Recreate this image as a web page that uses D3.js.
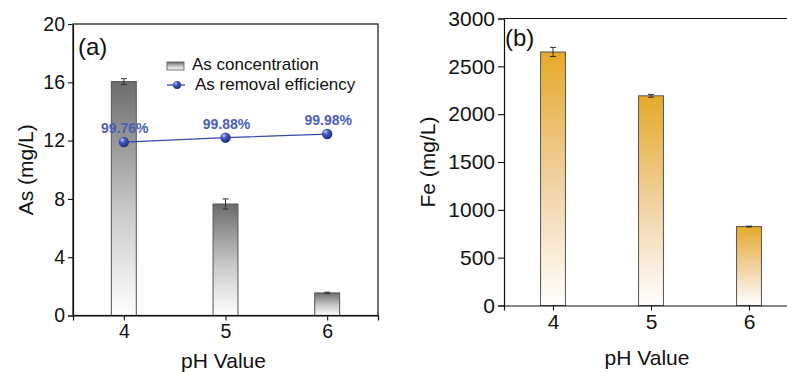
<!DOCTYPE html>
<html>
<head>
<meta charset="utf-8">
<script src="https://cdn.jsdelivr.net/npm/d3@7"></script>
<style>
  body { margin: 0; background: #fff; }
  svg { display: block; font-family: Arial, "Liberation Sans", sans-serif; }
</style>
</head>
<body>
<div id="chart"></div>
<script>
// data
var phLevels = [4, 5, 6];
var asConc = [16.05, 7.65, 1.55];
var asErr = [0.2, 0.35, 0.05];
var asEff = [99.76, 99.88, 99.98];
var feConc = [2650, 2192, 825];
var feErr = [48, 15, 5];
var yTicksA = [0, 4, 8, 12, 16, 20];
var yTicksB = [0, 500, 1000, 1500, 2000, 2500, 3000];

var W = 787, H = 372;
var svg = d3.select('#chart').append('svg').attr('width', W).attr('height', H);
var defs = svg.append('defs');

function vGrad(id, stops) {
    var g = defs.append('linearGradient').attr('id', id)
        .attr('x1', 0).attr('y1', 0).attr('x2', 0).attr('y2', 1);
    stops.forEach(function(s){ g.append('stop').attr('offset', s[0]).attr('stop-color', s[1]); });
}
vGrad('grayGrad', [['0%', '#6c6c6c'], ['55%', '#c9c9c9'], ['100%', '#ffffff']]);
vGrad('goldGrad', [['0%', '#e5aa28'], ['50%', '#f1d09e'], ['100%', '#ffffff']]);

var ball = defs.append('radialGradient').attr('id', 'ball')
    .attr('cx', '35%').attr('cy', '30%').attr('r', '70%');
ball.append('stop').attr('offset', '0%').attr('stop-color', '#c8d0f4');
ball.append('stop').attr('offset', '35%').attr('stop-color', '#4a5cc0');
ball.append('stop').attr('offset', '100%').attr('stop-color', '#1f2d86');

var titleFont = 21;

// ---------- panel (a) ----------
var xA = d3.scaleLinear().domain([3.5, 6.5]).range([73, 378]);
var yA = d3.scaleLinear().domain([0, 20]).range([315.5, 24]);
var yEff = d3.scaleLinear().domain([95, 103]).range([315.5, 24]); // hidden right axis
var barW = 0.245;

var gA = svg.append('g');

gA.selectAll('.barA').data(phLevels).enter().append('rect')
    .attr('class', 'barA')
    .attr('x', function(d){ return xA(d - barW / 2); })
    .attr('width', function(d){ return xA(d + barW / 2) - xA(d - barW / 2); })
    .attr('y', function(d, i){ return yA(asConc[i]); })
    .attr('height', function(d, i){ return yA(0) - yA(asConc[i]); })
    .style('fill', 'url(#grayGrad)')
    .style('stroke', '#555').style('stroke-width', 1);

function errBars(g, xs, ys, vals, errs) {
    phLevels.forEach(function(d, i){
        var x = xs(d), y1 = ys(vals[i] + errs[i]), y2 = ys(vals[i] - errs[i]);
        g.append('line').attr('x1', x).attr('x2', x).attr('y1', y1).attr('y2', y2)
            .style('stroke', '#333').style('stroke-width', 1);
        [y1, y2].forEach(function(y){
            g.append('line').attr('x1', x - 3).attr('x2', x + 3).attr('y1', y).attr('y2', y)
                .style('stroke', '#333').style('stroke-width', 1);
        });
    });
}
errBars(gA, xA, yA, asConc, asErr);

// efficiency line
var effLine = d3.line()
    .x(function(d){ return xA(d); })
    .y(function(d, i){ return yEff(asEff[i]); });
gA.append('path').datum(phLevels).attr('d', effLine)
    .style('fill', 'none').style('stroke', '#3548a8').style('stroke-width', 1.3);
gA.selectAll('.pt').data(phLevels).enter().append('circle')
    .attr('cx', function(d){ return xA(d); })
    .attr('cy', function(d, i){ return yEff(asEff[i]); })
    .attr('r', 5.2).style('fill', 'url(#ball)');
gA.selectAll('.effLbl').data(phLevels).enter().append('text')
    .attr('x', function(d){ return xA(d) + 1; })
    .attr('y', function(d, i){ return yEff(asEff[i]) - 9; })
    .attr('text-anchor', 'middle')
    .style('font-size', '14px').style('font-weight', 'bold').style('fill', '#4b5fb8')
    .text(function(d, i){ return asEff[i].toFixed(2) + '%'; });

// frame
gA.append('rect').attr('x', xA(3.5)).attr('y', yA(20))
    .attr('width', xA(6.5) - xA(3.5)).attr('height', yA(0) - yA(20))
    .style('fill', 'none').style('stroke', '#111').style('stroke-width', 1.2);

var axLA = gA.append('g').attr('transform', 'translate(' + xA(3.5) + ',0)')
    .call(d3.axisLeft(yA).tickValues(yTicksA).tickSize(5).tickPadding(3).tickFormat(d3.format('d')));
var axBA = gA.append('g').attr('transform', 'translate(0,' + yA(0) + ')')
    .call(d3.axisBottom(xA).tickValues(phLevels).tickSize(5).tickPadding(4).tickFormat(d3.format('d')));

gA.append('text').attr('x', 78).attr('y', 55)
    .style('font-size', '24px').style('fill', '#111').text('(a)');
gA.append('text').attr('transform', 'translate(33,' + ((yA(0) + yA(20)) / 2) + ') rotate(-90)')
    .attr('text-anchor', 'middle').style('font-size', titleFont + 'px').style('fill', '#111').text('As (mg/L)');
gA.append('text').attr('x', xA(5) - 2).attr('y', 368)
    .attr('text-anchor', 'middle').style('font-size', titleFont + 'px').style('fill', '#111').text('pH Value');

// legend
var leg = gA.append('g');
leg.append('rect').attr('x', 167).attr('y', 62).attr('width', 17).attr('height', 8)
    .style('fill', 'url(#grayGrad)').style('stroke', '#555').style('stroke-width', 0.8);
leg.append('text').attr('x', 192).attr('y', 69.5).style('font-size', '17px').style('fill', '#111')
    .text('As concentration');
leg.append('line').attr('x1', 167).attr('x2', 185).attr('y1', 85).attr('y2', 85)
    .style('stroke', '#3548a8').style('stroke-width', 1.3);
leg.append('circle').attr('cx', 177).attr('cy', 85).attr('r', 4).style('fill', 'url(#ball)');
leg.append('text').attr('x', 195).attr('y', 90).style('font-size', '17px').style('fill', '#111')
    .text('As removal efficiency');

// ---------- panel (b) ----------
var xB = d3.scaleLinear().domain([3.5, 6.5]).range([504, 798]);
var yB = d3.scaleLinear().domain([0, 3000]).range([305.5, 18.5]);
var gB = svg.append('g');

gB.selectAll('.barB').data(phLevels).enter().append('rect')
    .attr('class', 'barB')
    .attr('x', function(d){ return xB(d - 0.127); })
    .attr('width', function(d){ return xB(d + 0.127) - xB(d - 0.127); })
    .attr('y', function(d, i){ return yB(feConc[i]); })
    .attr('height', function(d, i){ return yB(0) - yB(feConc[i]); })
    .style('fill', 'url(#goldGrad)')
    .style('stroke', '#555').style('stroke-width', 1);
errBars(gB, xB, yB, feConc, feErr);

gB.append('line').attr('x1', xB(3.5)).attr('x2', xB(6.5)).attr('y1', yB(3000)).attr('y2', yB(3000))
    .style('stroke', '#111').style('stroke-width', 1.2);
var axLB = gB.append('g').attr('transform', 'translate(' + xB(3.5) + ',0)')
    .call(d3.axisLeft(yB).tickValues(yTicksB).tickSize(6).tickPadding(3).tickFormat(d3.format('d')));
var axBB = gB.append('g').attr('transform', 'translate(0,' + yB(0) + ')')
    .call(d3.axisBottom(xB).tickValues(phLevels).tickSize(5).tickPadding(4).tickFormat(d3.format('d')));

gB.append('text').attr('x', 505).attr('y', 46)
    .style('font-size', '24px').style('fill', '#111').text('(b)');
gB.append('text').attr('transform', 'translate(435,' + ((yB(0) + yB(3000)) / 2) + ') rotate(-90)')
    .attr('text-anchor', 'middle').style('font-size', titleFont + 'px').style('fill', '#111').text('Fe (mg/L)');
gB.append('text').attr('x', xB(5) - 4).attr('y', 365)
    .attr('text-anchor', 'middle').style('font-size', titleFont + 'px').style('fill', '#111').text('pH Value');

// axis styling
[[axLA, 19.5], [axBA, 19.5], [axLB, 21], [axBB, 21]].forEach(function(p){
    var ax = p[0];
    ax.select('.domain').style('stroke', '#111').style('stroke-width', 1.2);
    ax.selectAll('.tick line').style('stroke', '#111').style('stroke-width', 1.1);
    ax.selectAll('.tick text').style('font-size', p[1] + 'px')
        .style('font-family', 'Arial, "Liberation Sans", sans-serif').style('fill', '#111');
});
</script>
</body>
</html>
